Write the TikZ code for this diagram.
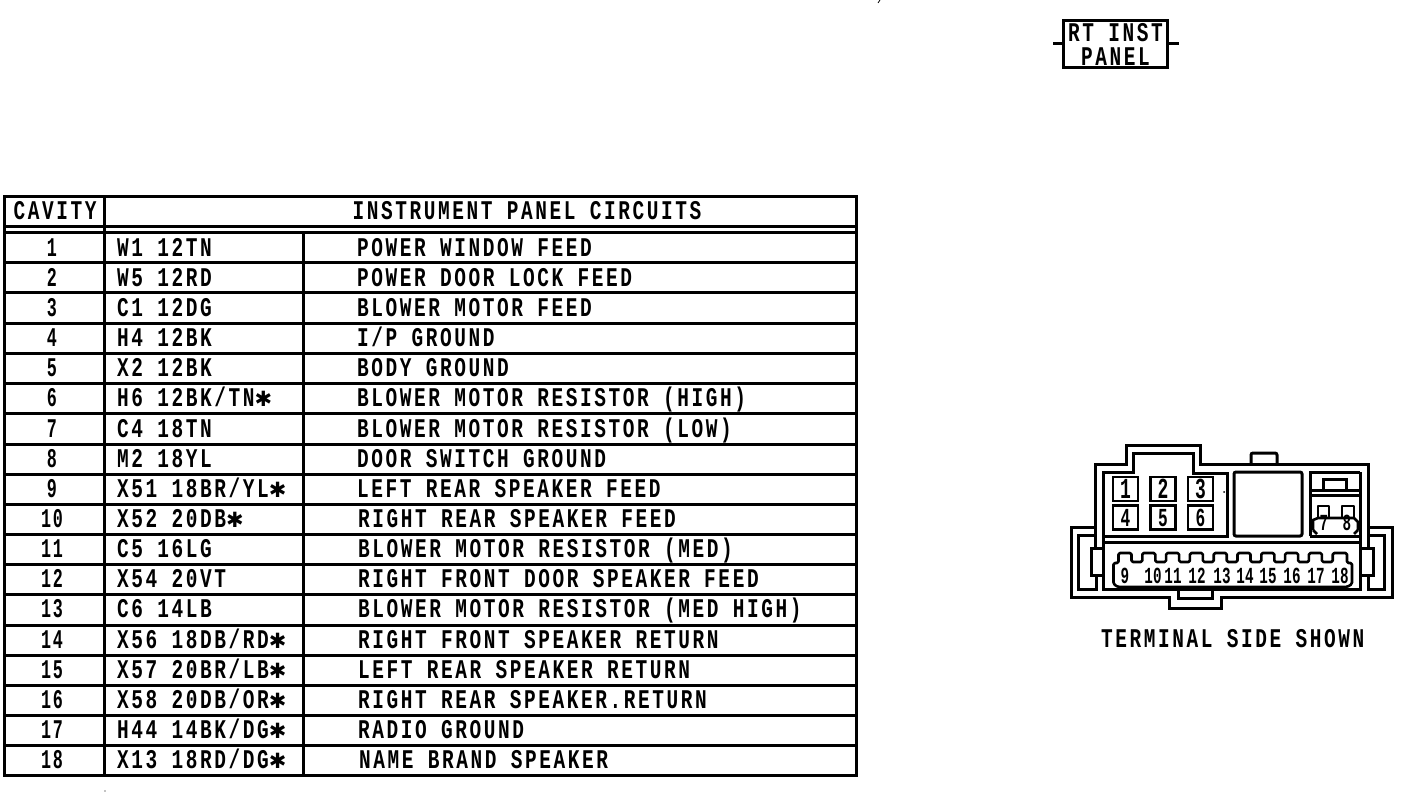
\documentclass[tikz,border=0pt]{standalone}
\usepackage{fontspec}
\newfontfamily\labfont[FakeStretch=0.72,LetterSpace=9.6]{Liberation Mono}
\newfontfamily\numfont[FakeStretch=0.62,LetterSpace=6]{Liberation Mono}
\newfontfamily\smallfont[FakeStretch=0.62]{Liberation Mono}
\newfontfamily\symfont{DejaVu Sans}
\newcommand{\starmark}{{\symfont\fontsize{21}{21}\selectfont ✱}}
\tikzset{
  ink/.style={line width=3pt,line join=miter,draw=black},
  thin ink/.style={line width=2.6pt,line join=round,draw=black},
  lab/.style={inner sep=0pt,anchor=base west,font=\labfont\bfseries\fontsize{27}{27}\selectfont},
  labc/.style={inner sep=0pt,anchor=base,font=\labfont\bfseries\fontsize{27}{27}\selectfont},
  cavnum/.style={inner sep=0pt,anchor=base,font=\numfont\bfseries\fontsize{27}{27}\selectfont},
  pintop/.style={inner sep=0pt,anchor=base,font=\smallfont\bfseries\fontsize{29}{29}\selectfont},
  pinmid/.style={inner sep=0pt,anchor=base,font=\smallfont\bfseries\fontsize{26}{26}\selectfont},
  pin/.style={inner sep=0pt,anchor=base,font=\smallfont\bfseries\fontsize{23}{23}\selectfont},
  cellbox/.style={draw=black,line width=2.8pt,inner sep=0pt,minimum width=25pt,minimum height=24pt},
  titlebox/.style={draw=black,line width=3pt,inner sep=0pt,minimum width=104pt,minimum height=47pt,align=center,
    font=\labfont\bfseries\fontsize{27}{24}\selectfont}
}
\begin{document}
\begin{tikzpicture}[x=1pt,y=-1pt]
\useasboundingbox (0,0) rectangle (1408,792);
\fill[white] (0,0) rectangle (1408,792);
% title box
\node[titlebox] (rt) at (1115.5,44) {RT INST\\PANEL};
\coordinate (rtl) at (1053,44);
\coordinate (rtr) at (1179,44);
\draw[ink] (rtl) -- (rt.west);
\draw[ink] (rt.east) -- (rtr);
% table frame
\draw[ink] (4,196) rectangle (856.5,775);
\draw[ink] (4,226) -- (856.5,226);
\foreach \yy in {232,262,292,323,353,383,413,444,474,504,534,564,594,625,655,685,715,745}
  \draw[ink] (4,\yy) -- (856.5,\yy);
\draw[ink] (104,196) -- (104,775);
\draw[ink] (303,232) -- (303,775);
\node[labc] (hc) at (55,219) {CAVITY};
\node[labc] (hi) at (527,219) {INSTRUMENT PANEL CIRCUITS};
\foreach \i/\yy/\xx/\w/\d in {
 1/256/357/{W1 12TN}/{POWER WINDOW FEED},
 2/286/357/{W5 12RD}/{POWER DOOR LOCK FEED},
 3/316/357/{C1 12DG}/{BLOWER MOTOR FEED},
 4/346/357/{H4 12BK}/{I/P GROUND},
 5/376/357/{X2 12BK}/{BODY GROUND},
 6/406/357/{H6 12BK/TN\starmark}/{BLOWER MOTOR RESISTOR (HIGH)},
 7/437/357/{C4 18TN}/{BLOWER MOTOR RESISTOR (LOW)},
 8/467/357/{M2 18YL}/{DOOR SWITCH GROUND},
 9/497/357/{X51 18BR/YL\starmark}/{LEFT REAR SPEAKER FEED},
 10/527/358/{X52 20DB\starmark}/{RIGHT REAR SPEAKER FEED},
 11/557/358/{C5 16LG}/{BLOWER MOTOR RESISTOR (MED)},
 12/587/358/{X54 20VT}/{RIGHT FRONT DOOR SPEAKER FEED},
 13/617/358/{C6 14LB}/{BLOWER MOTOR RESISTOR (MED HIGH)},
 14/648/358/{X56 18DB/RD\starmark}/{RIGHT FRONT SPEAKER RETURN},
 15/678/358/{X57 20BR/LB\starmark}/{LEFT REAR SPEAKER RETURN},
 16/708/358/{X58 20DB/OR\starmark}/{RIGHT REAR SPEAKER.RETURN},
 17/738/358/{H44 14BK/DG\starmark}/{RADIO GROUND},
 18/768/359/{X13 18RD/DG\starmark}/{NAME BRAND SPEAKER}}{
  \node[cavnum] (c\i) at (52,\yy) {\i};
  \node[lab] (w\i) at (117,\yy) {\w};
  \node[lab] (d\i) at (\xx,\yy) {\d};
}
% connector housing, upper body
\draw[ink] (1095,548) -- (1095,464) -- (1126,464) -- (1126,445) -- (1200,445) -- (1200,464) -- (1368,464) -- (1368,548);
\draw[ink] (1103,543) -- (1103,472) -- (1133,472) -- (1133,453) -- (1193,453) -- (1193,473) -- (1227,473) -- (1227,536) -- (1103,536);
\draw[ink] (1103,542) -- (1360,542);
\draw[ink] (1360,472) -- (1360,548);
\draw[ink,rounded corners=2pt] (1251,464) -- (1251,453) -- (1277,453) -- (1277,464);
\draw[ink,rounded corners=2pt] (1234,472) rectangle (1302,536);
% right block
\draw[ink] (1310,536) -- (1310,472) -- (1360,472);
\draw[ink] (1310,536) -- (1360,536);
\draw[ink] (1310,490) -- (1360,490);
\draw[ink] (1310,495) -- (1360,495);
\draw[ink] (1323,489) -- (1323,479) -- (1346,479) -- (1346,489);
\draw[thin ink] (1318,518) -- (1318,506) -- (1329,506) -- (1329,518);
\draw[thin ink] (1342,518) -- (1342,506) -- (1354,506) -- (1354,518);
\draw[thin ink] (1313,530) -- (1313,520) -- (1318,518) -- (1354,518) -- (1358,522) -- (1358,530);
\draw[thin ink] (1313,530) -- (1317,534);
\draw[thin ink] (1358,530) -- (1354,534);
% cavities
\node[cellbox] (b1) at (1125.5,489) {};
\node[cellbox] (b2) at (1163,489) {};
\node[cellbox] (b3) at (1200.5,489) {};
\node[cellbox] (b4) at (1125.5,517.5) {};
\node[cellbox] (b5) at (1163,517.5) {};
\node[cellbox] (b6) at (1200.5,517.5) {};
\foreach \n in {1,2,3}{\node[pintop] (p\n) at ([yshift=-9pt]b\n.center) {\n};}
\foreach \n in {4,5,6}{\node[pinmid] (p\n) at ([yshift=-9pt]b\n.center) {\n};}
\node[pin] (p7) at (1324,530) {7};
\node[pin] (p8) at (1347,530) {8};
% outer shell
\draw[ink] (1095,527) -- (1071,527) -- (1071,597) -- (1169,597) -- (1169,608) -- (1221,608) -- (1221,597) -- (1392,597) -- (1392,527) -- (1368,527);
\draw[ink] (1095,535) -- (1078,535) -- (1078,589) -- (1096,589) -- (1096,575);
\draw[ink] (1368,535) -- (1384,535) -- (1384,589) -- (1368,589) -- (1368,575);
\draw[ink] (1103,543) -- (1103,589) -- (1360,589) -- (1360,548);
\draw[ink] (1178,589) -- (1178,598) -- (1212,598) -- (1212,589);
\draw[ink] (1091,548) rectangle (1103,575);
\draw[ink] (1360,548) rectangle (1373,575);
% terminal comb
\draw[thin ink,rounded corners=1.5pt] (1113.5,584) -- (1113.5,563) -- (1118.5,563)
 foreach \t in {0,...,8}{ -- (1118.5+23.8*\t,553) -- (1131.5+23.8*\t,553) -- (1131.5+23.8*\t,562) -- (1142.3+23.8*\t,562)}
 -- (1332.7,553) -- (1347,553) -- (1347,563) -- (1352,563) -- (1352,584) -- (1347,587) -- (1118,587) -- cycle;
\foreach \n/\xx in {9/1125,10/1153,11/1173,12/1197,13/1222,14/1245,15/1268,16/1292,17/1316,18/1340}{
  \node[pin] (t\n) at (\xx,583) {\n};
}
\node[lab] (cap) at (1101,647) {TERMINAL SIDE SHOWN};
% specks
\fill (1224,492) circle (1pt);
\fill (105,791) circle (0.6pt);
\draw[line width=0.8pt] (880,0) -- (878,3);
\end{tikzpicture}
\end{document}
